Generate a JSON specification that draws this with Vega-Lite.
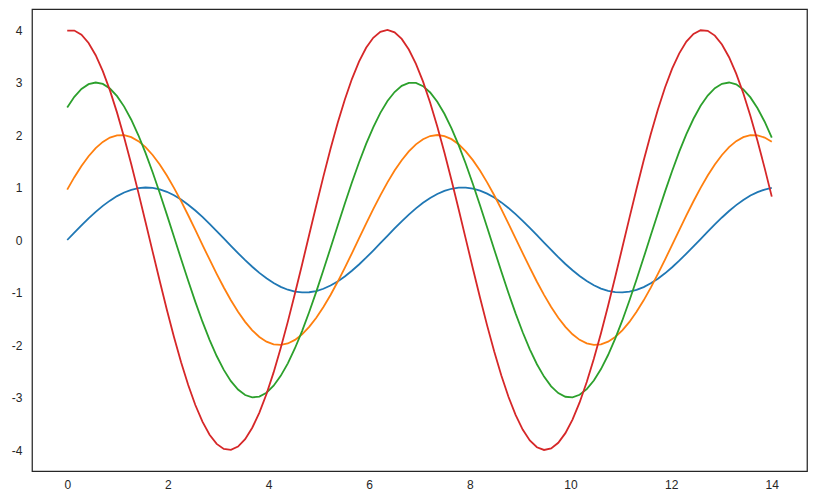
{
  "$schema": "https://vega.github.io/schema/vega-lite/v6.json",
  "width": 775,
  "height": 462,
  "autosize": {"type": "none"},
  "padding": {"left": 32, "top": 9, "right": 10, "bottom": 32},
  "background": "white",
  "config": {
    "view": {"stroke": "#262626", "strokeWidth": 1.25},
    "font": "Liberation Sans"
  },
  "data": {"values": [
{"s":"a","x":0,"y":0},{"s":"a","x":0.1414,"y":0.141},{"s":"a","x":0.2828,"y":0.279},{"s":"a","x":0.4242,"y":0.412},{"s":"a","x":0.5657,"y":0.536},{"s":"a","x":0.7071,"y":0.65},{"s":"a","x":0.8485,"y":0.75},{"s":"a","x":0.9899,"y":0.836},{"s":"a","x":1.1313,"y":0.905},{"s":"a","x":1.2727,"y":0.956},
{"s":"a","x":1.4141,"y":0.988},{"s":"a","x":1.5556,"y":1.0},{"s":"a","x":1.697,"y":0.992},{"s":"a","x":1.8384,"y":0.964},{"s":"a","x":1.9798,"y":0.918},{"s":"a","x":2.1212,"y":0.852},{"s":"a","x":2.2626,"y":0.77},{"s":"a","x":2.404,"y":0.672},{"s":"a","x":2.5455,"y":0.561},{"s":"a","x":2.6869,"y":0.439},
{"s":"a","x":2.8283,"y":0.308},{"s":"a","x":2.9697,"y":0.171},{"s":"a","x":3.1111,"y":0.03},{"s":"a","x":3.2525,"y":-0.111},{"s":"a","x":3.3939,"y":-0.25},{"s":"a","x":3.5354,"y":-0.384},{"s":"a","x":3.6768,"y":-0.51},{"s":"a","x":3.8182,"y":-0.626},{"s":"a","x":3.9596,"y":-0.73},{"s":"a","x":4.101,"y":-0.819},
{"s":"a","x":4.2424,"y":-0.892},{"s":"a","x":4.3838,"y":-0.947},{"s":"a","x":4.5253,"y":-0.983},{"s":"a","x":4.6667,"y":-0.999},{"s":"a","x":4.8081,"y":-0.995},{"s":"a","x":4.9495,"y":-0.972},{"s":"a","x":5.0909,"y":-0.929},{"s":"a","x":5.2323,"y":-0.868},{"s":"a","x":5.3737,"y":-0.789},{"s":"a","x":5.5152,"y":-0.695},
{"s":"a","x":5.6566,"y":-0.586},{"s":"a","x":5.798,"y":-0.466},{"s":"a","x":5.9394,"y":-0.337},{"s":"a","x":6.0808,"y":-0.201},{"s":"a","x":6.2222,"y":-0.061},{"s":"a","x":6.3636,"y":0.08},{"s":"a","x":6.5051,"y":0.22},{"s":"a","x":6.6465,"y":0.355},{"s":"a","x":6.7879,"y":0.484},{"s":"a","x":6.9293,"y":0.602},
{"s":"a","x":7.0707,"y":0.709},{"s":"a","x":7.2121,"y":0.801},{"s":"a","x":7.3535,"y":0.877},{"s":"a","x":7.4949,"y":0.936},{"s":"a","x":7.6364,"y":0.976},{"s":"a","x":7.7778,"y":0.997},{"s":"a","x":7.9192,"y":0.998},{"s":"a","x":8.0606,"y":0.979},{"s":"a","x":8.202,"y":0.94},{"s":"a","x":8.3434,"y":0.883},
{"s":"a","x":8.4848,"y":0.808},{"s":"a","x":8.6263,"y":0.716},{"s":"a","x":8.7677,"y":0.611},{"s":"a","x":8.9091,"y":0.493},{"s":"a","x":9.0505,"y":0.366},{"s":"a","x":9.1919,"y":0.231},{"s":"a","x":9.3333,"y":0.091},{"s":"a","x":9.4747,"y":-0.05},{"s":"a","x":9.6162,"y":-0.19},{"s":"a","x":9.7576,"y":-0.327},
{"s":"a","x":9.899,"y":-0.457},{"s":"a","x":10.0404,"y":-0.577},{"s":"a","x":10.1818,"y":-0.687},{"s":"a","x":10.3232,"y":-0.782},{"s":"a","x":10.4646,"y":-0.862},{"s":"a","x":10.6061,"y":-0.925},{"s":"a","x":10.7475,"y":-0.969},{"s":"a","x":10.8889,"y":-0.994},{"s":"a","x":11.0303,"y":-0.999},{"s":"a","x":11.1717,"y":-0.985},
{"s":"a","x":11.3131,"y":-0.95},{"s":"a","x":11.4545,"y":-0.897},{"s":"a","x":11.596,"y":-0.825},{"s":"a","x":11.7374,"y":-0.737},{"s":"a","x":11.8788,"y":-0.635},{"s":"a","x":12.0202,"y":-0.519},{"s":"a","x":12.1616,"y":-0.394},{"s":"a","x":12.303,"y":-0.26},{"s":"a","x":12.4444,"y":-0.122},{"s":"a","x":12.5859,"y":0.019},
{"s":"a","x":12.7273,"y":0.16},{"s":"a","x":12.8687,"y":0.298},{"s":"a","x":13.0101,"y":0.429},{"s":"a","x":13.1515,"y":0.552},{"s":"a","x":13.2929,"y":0.664},{"s":"a","x":13.4343,"y":0.763},{"s":"a","x":13.5758,"y":0.847},{"s":"a","x":13.7172,"y":0.913},{"s":"a","x":13.8586,"y":0.961},{"s":"a","x":14,"y":0.991},
{"s":"b","x":0,"y":0.959},{"s":"b","x":0.1414,"y":1.197},{"s":"b","x":0.2828,"y":1.411},{"s":"b","x":0.4242,"y":1.596},{"s":"b","x":0.5657,"y":1.75},{"s":"b","x":0.7071,"y":1.869},{"s":"b","x":0.8485,"y":1.951},{"s":"b","x":0.9899,"y":1.993},{"s":"b","x":1.1313,"y":1.996},{"s":"b","x":1.2727,"y":1.959},
{"s":"b","x":1.4141,"y":1.883},{"s":"b","x":1.5556,"y":1.77},{"s":"b","x":1.697,"y":1.62},{"s":"b","x":1.8384,"y":1.439},{"s":"b","x":1.9798,"y":1.229},{"s":"b","x":2.1212,"y":0.994},{"s":"b","x":2.2626,"y":0.74},{"s":"b","x":2.404,"y":0.471},{"s":"b","x":2.5455,"y":0.192},{"s":"b","x":2.6869,"y":-0.091},
{"s":"b","x":2.8283,"y":-0.371},{"s":"b","x":2.9697,"y":-0.644},{"s":"b","x":3.1111,"y":-0.905},{"s":"b","x":3.2525,"y":-1.147},{"s":"b","x":3.3939,"y":-1.367},{"s":"b","x":3.5354,"y":-1.559},{"s":"b","x":3.6768,"y":-1.72},{"s":"b","x":3.8182,"y":-1.847},{"s":"b","x":3.9596,"y":-1.936},{"s":"b","x":4.101,"y":-1.988},
{"s":"b","x":4.2424,"y":-1.999},{"s":"b","x":4.3838,"y":-1.971},{"s":"b","x":4.5253,"y":-1.903},{"s":"b","x":4.6667,"y":-1.797},{"s":"b","x":4.8081,"y":-1.655},{"s":"b","x":4.9495,"y":-1.481},{"s":"b","x":5.0909,"y":-1.277},{"s":"b","x":5.2323,"y":-1.047},{"s":"b","x":5.3737,"y":-0.796},{"s":"b","x":5.5152,"y":-0.53},
{"s":"b","x":5.6566,"y":-0.253},{"s":"b","x":5.798,"y":0.03},{"s":"b","x":5.9394,"y":0.311},{"s":"b","x":6.0808,"y":0.587},{"s":"b","x":6.2222,"y":0.85},{"s":"b","x":6.3636,"y":1.097},{"s":"b","x":6.5051,"y":1.322},{"s":"b","x":6.6465,"y":1.52},{"s":"b","x":6.7879,"y":1.688},{"s":"b","x":6.9293,"y":1.822},
{"s":"b","x":7.0707,"y":1.92},{"s":"b","x":7.2121,"y":1.98},{"s":"b","x":7.3535,"y":2.0},{"s":"b","x":7.4949,"y":1.98},{"s":"b","x":7.6364,"y":1.921},{"s":"b","x":7.7778,"y":1.823},{"s":"b","x":7.9192,"y":1.689},{"s":"b","x":8.0606,"y":1.521},{"s":"b","x":8.202,"y":1.323},{"s":"b","x":8.3434,"y":1.098},
{"s":"b","x":8.4848,"y":0.852},{"s":"b","x":8.6263,"y":0.588},{"s":"b","x":8.7677,"y":0.313},{"s":"b","x":8.9091,"y":0.031},{"s":"b","x":9.0505,"y":-0.251},{"s":"b","x":9.1919,"y":-0.528},{"s":"b","x":9.3333,"y":-0.795},{"s":"b","x":9.4747,"y":-1.045},{"s":"b","x":9.6162,"y":-1.275},{"s":"b","x":9.7576,"y":-1.48},
{"s":"b","x":9.899,"y":-1.655},{"s":"b","x":10.0404,"y":-1.796},{"s":"b","x":10.1818,"y":-1.902},{"s":"b","x":10.3232,"y":-1.97},{"s":"b","x":10.4646,"y":-1.999},{"s":"b","x":10.6061,"y":-1.988},{"s":"b","x":10.7475,"y":-1.937},{"s":"b","x":10.8889,"y":-1.847},{"s":"b","x":11.0303,"y":-1.721},{"s":"b","x":11.1717,"y":-1.56},
{"s":"b","x":11.3131,"y":-1.368},{"s":"b","x":11.4545,"y":-1.149},{"s":"b","x":11.596,"y":-0.907},{"s":"b","x":11.7374,"y":-0.646},{"s":"b","x":11.8788,"y":-0.373},{"s":"b","x":12.0202,"y":-0.092},{"s":"b","x":12.1616,"y":0.19},{"s":"b","x":12.303,"y":0.469},{"s":"b","x":12.4444,"y":0.738},{"s":"b","x":12.5859,"y":0.993},
{"s":"b","x":12.7273,"y":1.228},{"s":"b","x":12.8687,"y":1.438},{"s":"b","x":13.0101,"y":1.619},{"s":"b","x":13.1515,"y":1.769},{"s":"b","x":13.2929,"y":1.883},{"s":"b","x":13.4343,"y":1.959},{"s":"b","x":13.5758,"y":1.996},{"s":"b","x":13.7172,"y":1.994},{"s":"b","x":13.8586,"y":1.951},{"s":"b","x":14,"y":1.87},
{"s":"c","x":0,"y":2.524},{"s":"c","x":0.1414,"y":2.728},{"s":"c","x":0.2828,"y":2.876},{"s":"c","x":0.4242,"y":2.968},{"s":"c","x":0.5657,"y":3.0},{"s":"c","x":0.7071,"y":2.972},{"s":"c","x":0.8485,"y":2.885},{"s":"c","x":0.9899,"y":2.74},{"s":"c","x":1.1313,"y":2.541},{"s":"c","x":1.2727,"y":2.291},
{"s":"c","x":1.4141,"y":1.995},{"s":"c","x":1.5556,"y":1.659},{"s":"c","x":1.697,"y":1.29},{"s":"c","x":1.8384,"y":0.896},{"s":"c","x":1.9798,"y":0.483},{"s":"c","x":2.1212,"y":0.061},{"s":"c","x":2.2626,"y":-0.362},{"s":"c","x":2.404,"y":-0.778},{"s":"c","x":2.5455,"y":-1.179},{"s":"c","x":2.6869,"y":-1.556},
{"s":"c","x":2.8283,"y":-1.902},{"s":"c","x":2.9697,"y":-2.21},{"s":"c","x":3.1111,"y":-2.474},{"s":"c","x":3.2525,"y":-2.688},{"s":"c","x":3.3939,"y":-2.849},{"s":"c","x":3.5354,"y":-2.953},{"s":"c","x":3.6768,"y":-2.998},{"s":"c","x":3.8182,"y":-2.983},{"s":"c","x":3.9596,"y":-2.909},{"s":"c","x":4.101,"y":-2.776},
{"s":"c","x":4.2424,"y":-2.588},{"s":"c","x":4.3838,"y":-2.349},{"s":"c","x":4.5253,"y":-2.062},{"s":"c","x":4.6667,"y":-1.735},{"s":"c","x":4.8081,"y":-1.372},{"s":"c","x":4.9495,"y":-0.983},{"s":"c","x":5.0909,"y":-0.573},{"s":"c","x":5.2323,"y":-0.152},{"s":"c","x":5.3737,"y":0.271},{"s":"c","x":5.5152,"y":0.69},
{"s":"c","x":5.6566,"y":1.094},{"s":"c","x":5.798,"y":1.477},{"s":"c","x":5.9394,"y":1.83},{"s":"c","x":6.0808,"y":2.147},{"s":"c","x":6.2222,"y":2.421},{"s":"c","x":6.3636,"y":2.647},{"s":"c","x":6.5051,"y":2.819},{"s":"c","x":6.6465,"y":2.936},{"s":"c","x":6.7879,"y":2.993},{"s":"c","x":6.9293,"y":2.991},
{"s":"c","x":7.0707,"y":2.93},{"s":"c","x":7.2121,"y":2.81},{"s":"c","x":7.3535,"y":2.633},{"s":"c","x":7.4949,"y":2.404},{"s":"c","x":7.6364,"y":2.128},{"s":"c","x":7.7778,"y":1.808},{"s":"c","x":7.9192,"y":1.453},{"s":"c","x":8.0606,"y":1.068},{"s":"c","x":8.202,"y":0.663},{"s":"c","x":8.3434,"y":0.244},
{"s":"c","x":8.4848,"y":-0.18},{"s":"c","x":8.6263,"y":-0.6},{"s":"c","x":8.7677,"y":-1.009},{"s":"c","x":8.9091,"y":-1.397},{"s":"c","x":9.0505,"y":-1.757},{"s":"c","x":9.1919,"y":-2.082},{"s":"c","x":9.3333,"y":-2.366},{"s":"c","x":9.4747,"y":-2.602},{"s":"c","x":9.6162,"y":-2.787},{"s":"c","x":9.7576,"y":-2.915},
{"s":"c","x":9.899,"y":-2.986},{"s":"c","x":10.0404,"y":-2.997},{"s":"c","x":10.1818,"y":-2.948},{"s":"c","x":10.3232,"y":-2.84},{"s":"c","x":10.4646,"y":-2.676},{"s":"c","x":10.6061,"y":-2.458},{"s":"c","x":10.7475,"y":-2.191},{"s":"c","x":10.8889,"y":-1.88},{"s":"c","x":11.0303,"y":-1.532},{"s":"c","x":11.1717,"y":-1.153},
{"s":"c","x":11.3131,"y":-0.752},{"s":"c","x":11.4545,"y":-0.335},{"s":"c","x":11.596,"y":0.089},{"s":"c","x":11.7374,"y":0.511},{"s":"c","x":11.8788,"y":0.922},{"s":"c","x":12.0202,"y":1.315},{"s":"c","x":12.1616,"y":1.682},{"s":"c","x":12.303,"y":2.016},{"s":"c","x":12.4444,"y":2.309},{"s":"c","x":12.5859,"y":2.556},
{"s":"c","x":12.7273,"y":2.752},{"s":"c","x":12.8687,"y":2.893},{"s":"c","x":13.0101,"y":2.976},{"s":"c","x":13.1515,"y":3.0},{"s":"c","x":13.2929,"y":2.964},{"s":"c","x":13.4343,"y":2.868},{"s":"c","x":13.5758,"y":2.716},{"s":"c","x":13.7172,"y":2.509},{"s":"c","x":13.8586,"y":2.253},{"s":"c","x":14,"y":1.951},
{"s":"d","x":0,"y":3.99},{"s":"d","x":0.1414,"y":3.99},{"s":"d","x":0.2828,"y":3.91},{"s":"d","x":0.4242,"y":3.753},{"s":"d","x":0.5657,"y":3.52},{"s":"d","x":0.7071,"y":3.217},{"s":"d","x":0.8485,"y":2.85},{"s":"d","x":0.9899,"y":2.426},{"s":"d","x":1.1313,"y":1.954},{"s":"d","x":1.2727,"y":1.442},
{"s":"d","x":1.4141,"y":0.902},{"s":"d","x":1.5556,"y":0.344},{"s":"d","x":1.697,"y":-0.221},{"s":"d","x":1.8384,"y":-0.782},{"s":"d","x":1.9798,"y":-1.327},{"s":"d","x":2.1212,"y":-1.846},{"s":"d","x":2.2626,"y":-2.328},{"s":"d","x":2.404,"y":-2.763},{"s":"d","x":2.5455,"y":-3.143},{"s":"d","x":2.6869,"y":-3.46},
{"s":"d","x":2.8283,"y":-3.709},{"s":"d","x":2.9697,"y":-3.883},{"s":"d","x":3.1111,"y":-3.98},{"s":"d","x":3.2525,"y":-3.997},{"s":"d","x":3.3939,"y":-3.934},{"s":"d","x":3.5354,"y":-3.793},{"s":"d","x":3.6768,"y":-3.576},{"s":"d","x":3.8182,"y":-3.288},{"s":"d","x":3.9596,"y":-2.934},{"s":"d","x":4.101,"y":-2.522},
{"s":"d","x":4.2424,"y":-2.059},{"s":"d","x":4.3838,"y":-1.555},{"s":"d","x":4.5253,"y":-1.02},{"s":"d","x":4.6667,"y":-0.465},{"s":"d","x":4.8081,"y":0.1},{"s":"d","x":4.9495,"y":0.662},{"s":"d","x":5.0909,"y":1.212},{"s":"d","x":5.2323,"y":1.737},{"s":"d","x":5.3737,"y":2.227},{"s":"d","x":5.5152,"y":2.673},
{"s":"d","x":5.6566,"y":3.066},{"s":"d","x":5.798,"y":3.398},{"s":"d","x":5.9394,"y":3.661},{"s":"d","x":6.0808,"y":3.852},{"s":"d","x":6.2222,"y":3.965},{"s":"d","x":6.3636,"y":4.0},{"s":"d","x":6.5051,"y":3.954},{"s":"d","x":6.6465,"y":3.83},{"s":"d","x":6.7879,"y":3.629},{"s":"d","x":6.9293,"y":3.356},
{"s":"d","x":7.0707,"y":3.016},{"s":"d","x":7.2121,"y":2.615},{"s":"d","x":7.3535,"y":2.163},{"s":"d","x":7.4949,"y":1.667},{"s":"d","x":7.6364,"y":1.138},{"s":"d","x":7.7778,"y":0.586},{"s":"d","x":7.9192,"y":0.022},{"s":"d","x":8.0606,"y":-0.542},{"s":"d","x":8.202,"y":-1.095},{"s":"d","x":8.3434,"y":-1.626},
{"s":"d","x":8.4848,"y":-2.125},{"s":"d","x":8.6263,"y":-2.581},{"s":"d","x":8.7677,"y":-2.986},{"s":"d","x":8.9091,"y":-3.332},{"s":"d","x":9.0505,"y":-3.61},{"s":"d","x":9.1919,"y":-3.817},{"s":"d","x":9.3333,"y":-3.947},{"s":"d","x":9.4747,"y":-3.999},{"s":"d","x":9.6162,"y":-3.971},{"s":"d","x":9.7576,"y":-3.863},
{"s":"d","x":9.899,"y":-3.679},{"s":"d","x":10.0404,"y":-3.421},{"s":"d","x":10.1818,"y":-3.094},{"s":"d","x":10.3232,"y":-2.706},{"s":"d","x":10.4646,"y":-2.264},{"s":"d","x":10.6061,"y":-1.777},{"s":"d","x":10.7475,"y":-1.254},{"s":"d","x":10.8889,"y":-0.706},{"s":"d","x":11.0303,"y":-0.144},{"s":"d","x":11.1717,"y":0.421},
{"s":"d","x":11.3131,"y":0.977},{"s":"d","x":11.4545,"y":1.514},{"s":"d","x":11.596,"y":2.021},{"s":"d","x":11.7374,"y":2.487},{"s":"d","x":11.8788,"y":2.904},{"s":"d","x":12.0202,"y":3.263},{"s":"d","x":12.1616,"y":3.556},{"s":"d","x":12.303,"y":3.779},{"s":"d","x":12.4444,"y":3.926},{"s":"d","x":12.5859,"y":3.995},
{"s":"d","x":12.7273,"y":3.984},{"s":"d","x":12.8687,"y":3.893},{"s":"d","x":13.0101,"y":3.725},{"s":"d","x":13.1515,"y":3.482},{"s":"d","x":13.2929,"y":3.17},{"s":"d","x":13.4343,"y":2.795},{"s":"d","x":13.5758,"y":2.364},{"s":"d","x":13.7172,"y":1.885},{"s":"d","x":13.8586,"y":1.369},{"s":"d","x":14,"y":0.826}
  ]},
  "mark": {"type": "line", "strokeWidth": 1.8, "interpolate": "linear"},
  "encoding": {
    "x": {
      "field": "x", "type": "quantitative",
      "scale": {"domain": [-0.7, 14.7], "nice": false, "zero": false},
      "axis": {"values": [0,2,4,6,8,10,12,14], "title": null, "grid": false, "domain": false, "ticks": false, "labelPadding": 8, "labelFontSize": 12, "labelColor": "#262626", "labelFont": "Liberation Sans"}
    },
    "y": {
      "field": "y", "type": "quantitative",
      "scale": {"domain": [-4.4, 4.4], "nice": false, "zero": false},
      "axis": {"values": [-4,-3,-2,-1,0,1,2,3,4], "labelExpr": "'' + datum.value", "title": null, "grid": false, "domain": false, "ticks": false, "labelPadding": 10, "labelFontSize": 12, "labelColor": "#262626", "labelFont": "Liberation Sans"}
    },
    "color": {
      "field": "s", "type": "nominal",
      "scale": {"domain": ["a","b","c","d"], "range": ["#1f77b4","#ff7f0e","#2ca02c","#d62728"]},
      "legend": null
    },
    "order": {"field": "x", "type": "quantitative"}
  }
}
